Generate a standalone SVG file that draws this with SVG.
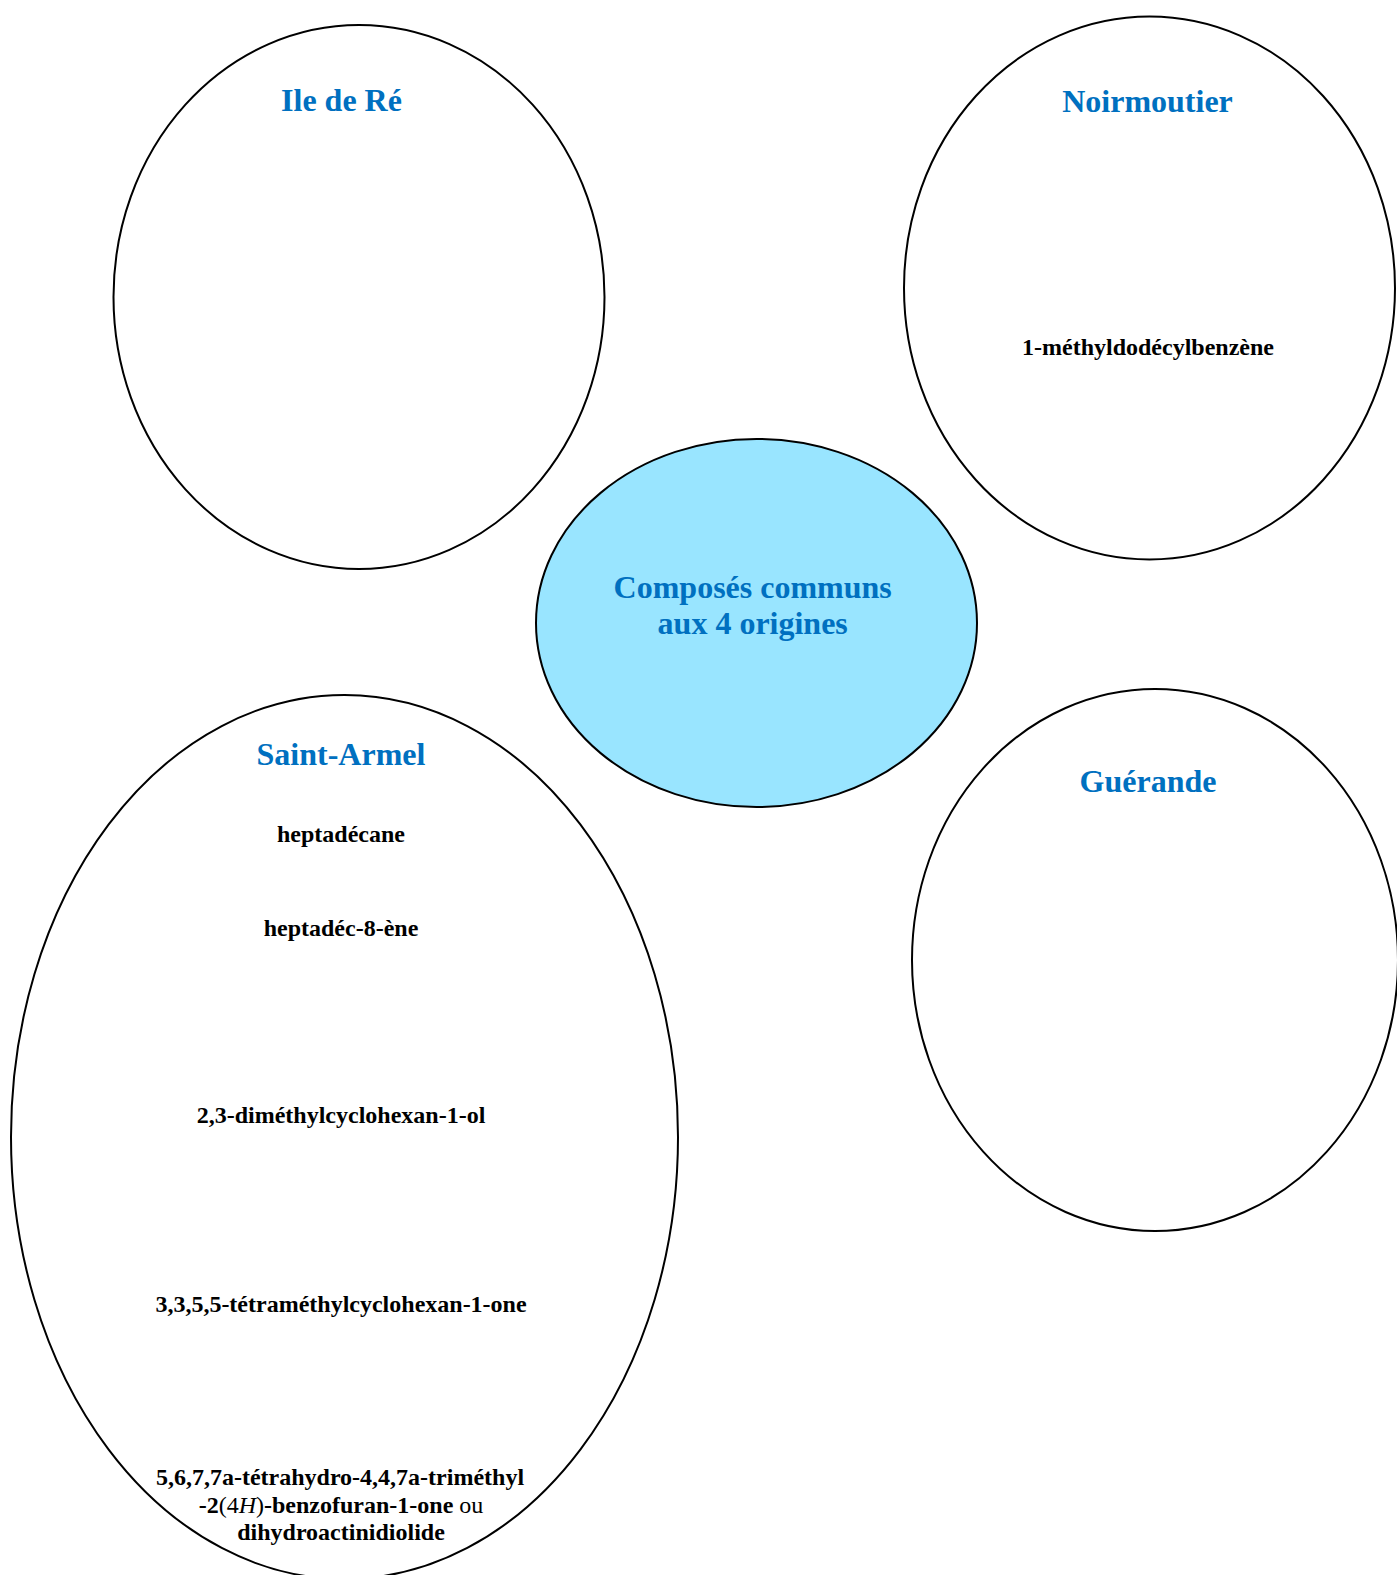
<svg xmlns="http://www.w3.org/2000/svg" width="1397" height="1575" viewBox="0 0 1397 1575">
<style>
.node{fill:#ffffff;stroke:#000000;stroke-width:2}
.center{fill:#99E5FF;stroke:#000000;stroke-width:2}
.title{font-family:"Liberation Serif","Times New Roman",serif;font-weight:bold;font-size:32px;fill:#0070C0;text-anchor:middle}
.item{font-family:"Liberation Serif","Times New Roman",serif;font-weight:bold;font-size:24px;fill:#000000;text-anchor:middle}
.reg{font-weight:normal}
.it{font-weight:normal;font-style:italic}
</style>
<rect x="0" y="0" width="1397" height="1575" fill="#ffffff"/>
<g id="connectors"></g>
<g id="ile-de-re">
<ellipse class="node" cx="359" cy="297" rx="245.5" ry="272"/>
<text class="title" x="341.5" y="111">Ile de Ré</text>
</g>
<g id="noirmoutier">
<ellipse class="node" cx="1149.5" cy="288" rx="245.5" ry="271.5"/>
<text class="title" x="1147.5" y="112">Noirmoutier</text>
<text class="item" x="1148" y="355">1-méthyldodécylbenzène</text>
</g>
<g id="guerande">
<ellipse class="node" cx="1155" cy="960" rx="243" ry="271"/>
<text class="title" x="1148" y="792">Guérande</text>
</g>
<g id="saint-armel">
<ellipse class="node" cx="344.5" cy="1137" rx="333.5" ry="442"/>
<text class="title" x="341" y="765">Saint-Armel</text>
<text class="item" x="341" y="842">heptadécane</text>
<text class="item" x="341" y="936">heptadéc-8-ène</text>
<text class="item" x="341" y="1123">2,3-diméthylcyclohexan-1-ol</text>
<text class="item" x="341" y="1312">3,3,5,5-tétraméthylcyclohexan-1-one</text>
<text class="item" x="340" y="1485">5,6,7,7a-tétrahydro-4,4,7a-triméthyl</text>
<text class="item" x="341" y="1513">-2<tspan class="reg">(4</tspan><tspan class="it">H</tspan><tspan class="reg">)</tspan>-benzofuran-1-one<tspan class="reg"> ou</tspan></text>
<text class="item" x="341" y="1540">dihydroactinidiolide</text>
</g>
<g id="communs">
<ellipse class="center" cx="756.5" cy="623" rx="220.5" ry="184"/>
<text class="title" x="752.7" y="598">Composés communs</text>
<text class="title" x="752.7" y="634">aux 4 origines</text>
</g>
</svg>
